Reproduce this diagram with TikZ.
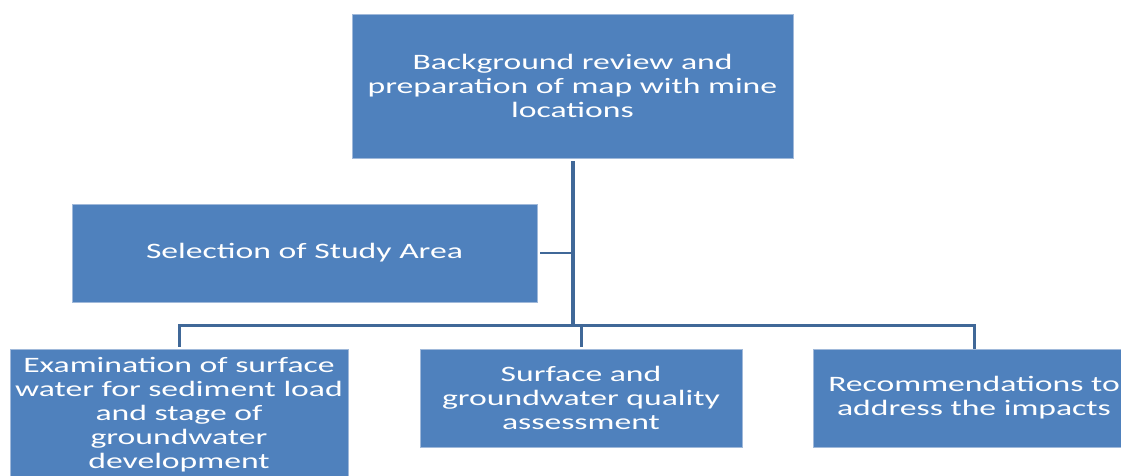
\documentclass[tikz,border=0pt]{standalone}
\usepackage{fontspec}
\setmainfont{Carlito}[FakeStretch=1.53]
\usepackage{xcolor}
\usepackage{tikz}

\definecolor{boxblue}{RGB}{79,129,189}
\definecolor{boxedge}{RGB}{160,185,218}
\definecolor{linkblue}{RGB}{64,104,152}

\tikzset{
	stagebox/.style={rectangle, fill=boxblue, draw=boxedge, line width=0.8pt,
		text=white, align=center, inner sep=0pt,
		font=\fontsize{22}{24}\selectfont},
	trunk/.style={draw=linkblue, line width=4pt},
	link/.style={draw=linkblue, line width=3pt}
}

\begin{document}
\begin{tikzpicture}[x=1pt,y=-1pt]
				\useasboundingbox (0,0) rectangle (1121,475);

				\node[stagebox, minimum width=441pt, minimum height=144pt] (bg) at (572.5,86)
					{Background review and\\preparation of map with mine\\locations};
				\node[stagebox, minimum width=465pt, minimum height=98pt] (sel) at (304.5,253)
					{Selection of Study Area};

				\node[stagebox, minimum width=338pt, minimum height=132pt] (exam) at (179,415)
					{Examination of surface\\water for sediment load\\and stage of\\groundwater\\development};
				\node[stagebox, minimum width=322pt, minimum height=98pt] (qual) at (581,398)
					{Surface and\\groundwater quality\\assessment};
				\node[stagebox, minimum width=322pt, minimum height=98pt] (rec) at (974,398)
					{Recommendations to\\address the impacts};

				\coordinate (bus) at (572.5,325.5);

				\draw[trunk, shorten <=3pt] (bg.south) -- (bus);
				\draw[link, line width=2.2pt, shorten <=3pt] (sel.east) -- (sel.east -| bus);
				\draw[link, shorten <=2pt] (exam.north) |- (bus) -| (rec.north);
				\draw[link, shorten <=2pt] (qual.north) -- (qual.north |- bus);
			\end{tikzpicture}
\end{document}
